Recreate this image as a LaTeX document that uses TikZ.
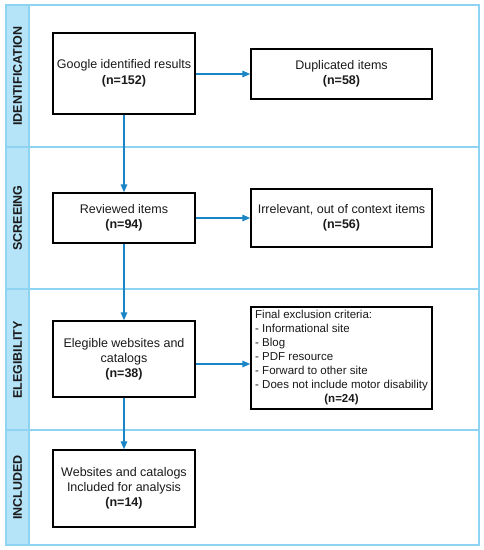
\documentclass[tikz,border=0pt]{standalone}
\usepackage{fontspec}
\setmainfont{Liberation Sans}
\usetikzlibrary{arrows.meta}
\definecolor{lanefill}{HTML}{B5E3F8}
\definecolor{laneline}{HTML}{8FD3F3}
\definecolor{arrowblue}{HTML}{1A85C6}
\definecolor{txt}{HTML}{1A1A1A}
\begin{document}
\begin{tikzpicture}[x=1pt,y=-1pt,
  box/.style={draw=black,line width=1.4pt,fill=white,text=txt,align=center,inner sep=2pt,
    font=\fontsize{12.5}{15.5}\selectfont},
  lanelabel/.style={rotate=90,font=\fontsize{12.5}{15}\selectfont\bfseries,text=txt},
  flow/.style={draw=arrowblue,line width=1.6pt,-{Triangle[length=8pt,width=6.5pt]}}
]
\useasboundingbox (0,0) rectangle (483,550);
% lanes
\fill[white] (0,0) rectangle (483,550);
\fill[lanefill] (6,5) rectangle (29,545);
\draw[laneline,line width=1.2pt] (6,5) rectangle (479,545);
\draw[laneline,line width=1.2pt] (29,5) -- (29,545);
\draw[laneline,line width=1.2pt] (6,147) -- (479,147);
\draw[laneline,line width=1.2pt] (6,289) -- (479,289);
\draw[laneline,line width=1.2pt] (6,430) -- (479,430);
\node[lanelabel] (l1) at (17.5,76) {IDENTIFICATION};
\node[lanelabel] (l2) at (17.5,218) {SCREEING};
\node[lanelabel] (l3) at (17.5,360) {ELEGIBILITY};
\node[lanelabel] (l4) at (17.5,487.5) {INCLUDED};
% boxes
\node[box,minimum width=142pt,minimum height=81pt] (b1) at (124,73.5)
  {Google identified results\\\textbf{(n=152)}};
\node[box,minimum width=181pt,minimum height=50pt] (b2) at (341.5,74)
  {Duplicated items\\\textbf{(n=58)}};
\node[box,minimum width=142pt,minimum height=50pt] (b3) at (124,218)
  {Reviewed items\\\textbf{(n=94)}};
\node[box,minimum width=181pt,minimum height=58pt] (b4) at (341.5,218)
  {Irrelevant, out of context items\\\textbf{(n=56)}};
\node[box,minimum width=142pt,minimum height=76pt,font=\fontsize{12.5}{15}\selectfont] (b5) at (124,359)
  {Elegible websites and\\catalogs\\\textbf{(n=38)}};
\node[box,minimum width=181pt,minimum height=102pt,inner sep=0pt,
  font=\fontsize{11.5}{14}\selectfont] (b6) at (341.5,358)
  {\begin{tabular}{@{}l@{}}Final exclusion criteria:\\- Informational site\\- Blog\\- PDF resource\\- Forward to other site\\- Does not include motor disability\\\multicolumn{1}{@{}c@{}}{\textbf{(n=24)}}\end{tabular}};
\node[box,minimum width=142pt,minimum height=77pt,font=\fontsize{12.5}{15}\selectfont] (b7) at (124,488.5)
  {Websites and catalogs\\Included for analysis\\\textbf{(n=14)}};
% connectors
\draw[flow] (b2.west -| b1.east) -- (b2.west);
\draw[flow] (b3.east) -- (b3.east -| b4.west);
\draw[flow] ([yshift=-5pt]b5.east) -- ([yshift=-5pt]b5.east -| b6.west);
\draw[flow] (b1.south) -- (b3.north);
\draw[flow] (b3.south) -- (b5.north);
\draw[flow] (b5.south) -- (b7.north);
\end{tikzpicture}
\end{document}
